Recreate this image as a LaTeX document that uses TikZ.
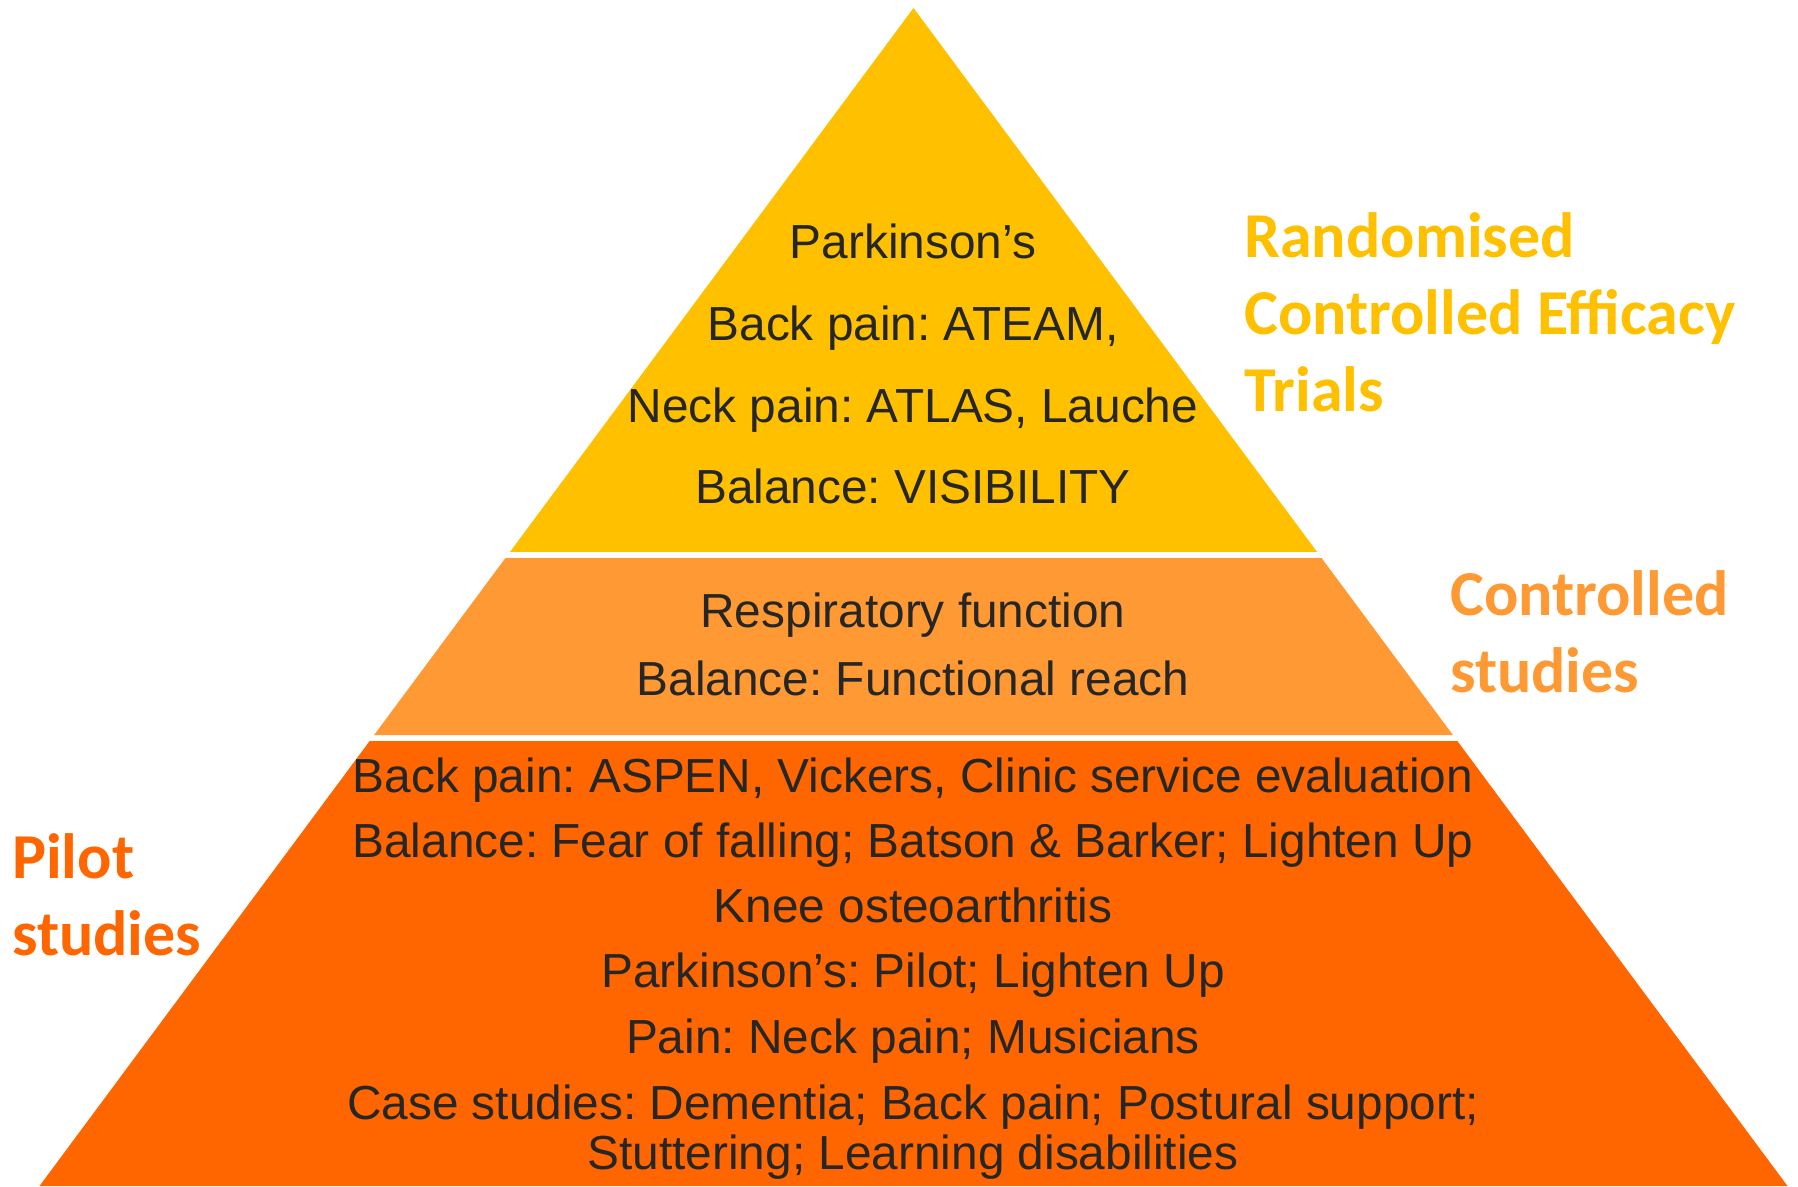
\documentclass[tikz,border=0pt]{standalone}
\usepackage{fontspec}
\setmainfont{Liberation Sans}
\newfontfamily\labfont{Carlito}
\usetikzlibrary{calc}
\definecolor{tierA}{HTML}{FFC000}
\definecolor{tierB}{HTML}{FF9933}
\definecolor{tierC}{HTML}{FF6600}
\definecolor{bodytext}{RGB}{38,38,38}
\tikzset{
  body/.style={anchor=base, inner sep=0pt, text=bodytext, font=\frenchspacing\fontsize{47.8}{56}\selectfont},
  lab/.style={anchor=base west, inner sep=0pt, font=\labfont\bfseries\fontsize{64}{76}\selectfont},
}
\begin{document}
\begin{tikzpicture}[x=1pt,y=-1pt]
\useasboundingbox (0,0) rectangle (1798,1186);
\coordinate (apex) at (913.5,8);
\coordinate (bl) at (39.5,1186);
\coordinate (br) at (1787.5,1186);
% tier boundaries (fractions of height from apex)
\coordinate (a1l) at ($(apex)!{544/1178}!(bl)$);
\coordinate (a1r) at ($(apex)!{544/1178}!(br)$);
\coordinate (b0l) at ($(apex)!{550/1178}!(bl)$);
\coordinate (b0r) at ($(apex)!{550/1178}!(br)$);
\coordinate (b1l) at ($(apex)!{727/1178}!(bl)$);
\coordinate (b1r) at ($(apex)!{727/1178}!(br)$);
\coordinate (c0l) at ($(apex)!{733/1178}!(bl)$);
\coordinate (c0r) at ($(apex)!{733/1178}!(br)$);
\fill[tierA] (apex) -- (a1r) -- (a1l) -- cycle;
\fill[tierB] (b0l) -- (b0r) -- (b1r) -- (b1l) -- cycle;
\fill[tierC] (c0l) -- (c0r) -- (br) -- (bl) -- cycle;
% top tier
\node[body] (t1) at (913,258) {Parkinson’s};
\node[body] (t2) at (913,340) {Back pain: ATEAM,};
\node[body] (t3) at (913,422) {Neck pain: ATLAS, Lauche};
\node[body] (t4) at (913,503) {Balance: VISIBILITY};
% middle tier
\node[body] (m1) at (913,627) {Respiratory function};
\node[body] (m2) at (913,695) {Balance: Functional reach};
% bottom tier
\node[body] (b1) at (913,792) {Back pain: ASPEN, Vickers, Clinic service evaluation};
\node[body] (b2) at (913,857) {Balance: Fear of falling; Batson \& Barker; Lighten Up};
\node[body] (b3) at (913,922) {Knee osteoarthritis};
\node[body] (b4) at (913,987) {Parkinson’s: Pilot; Lighten Up};
\node[body] (b5) at (913,1053) {Pain: Neck pain; Musicians};
\node[body] (b6) at (913,1119) {Case studies: Dementia; Back pain; Postural support;};
\node[body] (b7) at (913,1169) {Stuttering; Learning disabilities};
% side labels
\node[lab, text=tierA] (r1) at (1244,257) {Randomised};
\node[lab, text=tierA] (r2) at (1244,334) {Controlled Efficacy};
\node[lab, text=tierA] (r3) at (1244,411) {Trials};
\node[lab, text=tierB] (c1) at (1450,615) {Controlled};
\node[lab, text=tierB] (c2) at (1450,692) {studies};
\node[lab, text=tierC] (p1) at (12,878) {Pilot};
\node[lab, text=tierC] (p2) at (12,955) {studies};
\end{tikzpicture}
\end{document}
